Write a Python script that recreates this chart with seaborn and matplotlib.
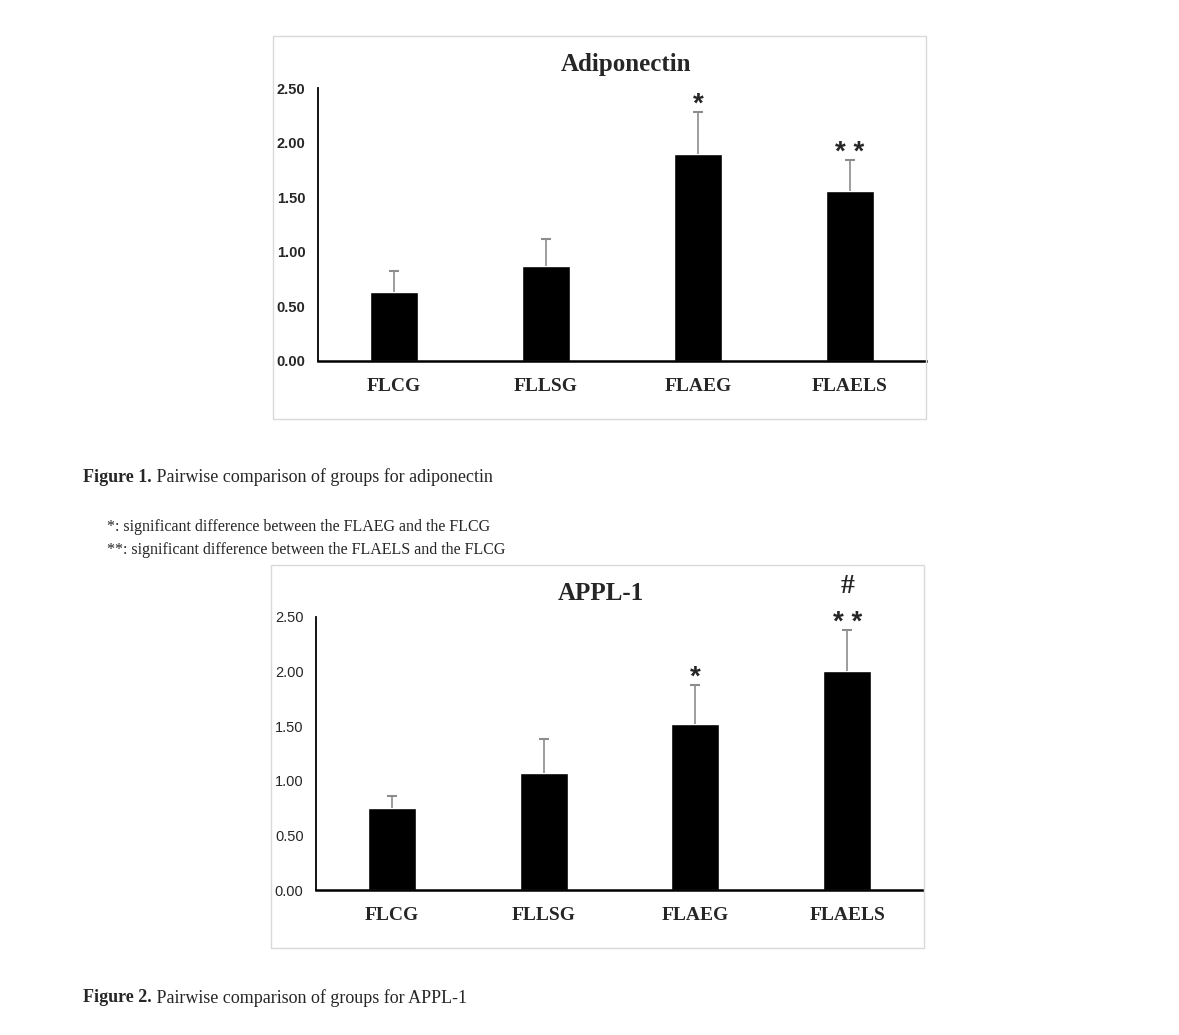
import pandas as pd
import matplotlib
matplotlib.use("Agg")
import matplotlib.pyplot as plt
from matplotlib.patches import Rectangle
import seaborn as sns

groups = ["FLCG", "FLLSG", "FLAEG", "FLAELS"]

adiponectin_mean = [0.63, 0.87, 1.90, 1.56]
adiponectin_err = [0.19, 0.25, 0.38, 0.28]
adiponectin_marks = ["", "", "*", "* *"]

appl1_mean = [0.75, 1.07, 1.52, 2.01]
appl1_err = [0.11, 0.31, 0.36, 0.37]
appl1_marks = ["", "", "*", "* *"]
appl1_marks2 = ["", "", "", "#"]

yticks = [0.0, 0.5, 1.0, 1.5, 2.0, 2.5]

sns.set_style("white")
serif = ["Liberation Serif", "DejaVu Serif"]
sans = ["Liberation Sans", "DejaVu Sans"]

W, H = 1179, 1035
fig = plt.figure(figsize=(W / 100, H / 100), dpi=100)


def px(x, y):
    # pixel coords (top-left origin) -> figure fraction
    return x / W, 1 - y / H


def panel(rect_px, box_px, means, errs, marks, title, title_x, title_y, tick_bold, extra=None):
    x0, y0, x1, y1 = box_px
    fig.patches.append(Rectangle(px(x0, y1), (x1 - x0) / W, (y1 - y0) / H,
                                 transform=fig.transFigure, fill=False,
                                 edgecolor="#d9d9d9", lw=1))
    l, t, r, b = rect_px
    ax = fig.add_axes([l / W, 1 - b / H, (r - l) / W, (b - t) / H])
    df = pd.DataFrame({"group": groups, "value": means})
    sns.barplot(data=df, x="group", y="value", color="black", width=0.316,
                errorbar=None, ax=ax, saturation=1)
    pos = list(range(len(groups)))
    eb = ax.errorbar(pos, means, yerr=[[0] * len(errs), errs], fmt="none",
                     ecolor="#8c8c8c", elinewidth=1.2, capsize=3.5, capthick=1.5)
    eb[1][0].set_visible(False)  # no cap at the bar top
    for i, m in enumerate(marks):
        if m:
            ax.text(i, means[i] + errs[i], m, ha="center", va="baseline",
                    fontsize=20, fontweight="bold", family=sans, clip_on=False)
    if extra:
        for i, m in enumerate(extra):
            if m:
                ax.text(i, means[i] + errs[i] + 0.34, m, ha="center", va="baseline",
                        fontsize=20, fontweight="bold", family=serif, clip_on=False)
    ax.set_ylim(0, 2.5)
    ax.set_xlim(-0.5, 3.5)
    ax.set_yticks(yticks)
    ax.set_yticklabels([f"{v:.2f}" for v in yticks], family=sans, fontsize=10.5,
                       fontweight="bold" if tick_bold else "normal")
    ax.set_xticks(pos)
    ax.set_xticklabels(groups, family=serif, fontsize=14, fontweight="bold")
    ax.tick_params(axis="both", length=0)
    ax.tick_params(axis="y", pad=9)
    ax.tick_params(axis="x", pad=12)
    ax.set_xlabel("")
    ax.set_ylabel("")
    sns.despine(ax=ax)
    ax.spines["left"].set_linewidth(1.3)
    ax.spines["bottom"].set_linewidth(1.8)
    ax.spines["left"].set_color("black")
    ax.spines["bottom"].set_color("black")
    fig.text(*px(title_x, title_y), title, ha="center", va="center",
             fontsize=18, fontweight="bold", family=serif)
    return ax


panel((318, 88, 926, 361), (273, 36, 926, 419), adiponectin_mean, adiponectin_err,
      adiponectin_marks, "Adiponectin", 626, 64, True)
panel((316, 617, 923, 890), (271, 565, 924, 948), appl1_mean, appl1_err,
      appl1_marks, "APPL-1", 601, 593, False, extra=appl1_marks2)


def caption(x, y, bold, rest, size):
    t = fig.text(*px(x, y), bold, ha="left", va="center", fontsize=size,
                 fontweight="bold", family=serif)
    fig.canvas.draw()
    bb = t.get_window_extent()
    fig.text(bb.x1 / W, 1 - y / H, rest, ha="left", va="center",
             fontsize=size, family=serif)


caption(83, 477, "Figure 1.", " Pairwise comparison of groups for adiponectin", 13)
fig.text(*px(107, 527), "*: significant difference between the FLAEG and the FLCG",
         ha="left", va="center", fontsize=11.5, family=serif)
fig.text(*px(107, 550), "**: significant difference between the FLAELS and the FLCG",
         ha="left", va="center", fontsize=11.5, family=serif)
caption(83, 998, "Figure 2.", " Pairwise comparison of groups for APPL-1", 13)

fig.savefig("out.png", dpi=100)
